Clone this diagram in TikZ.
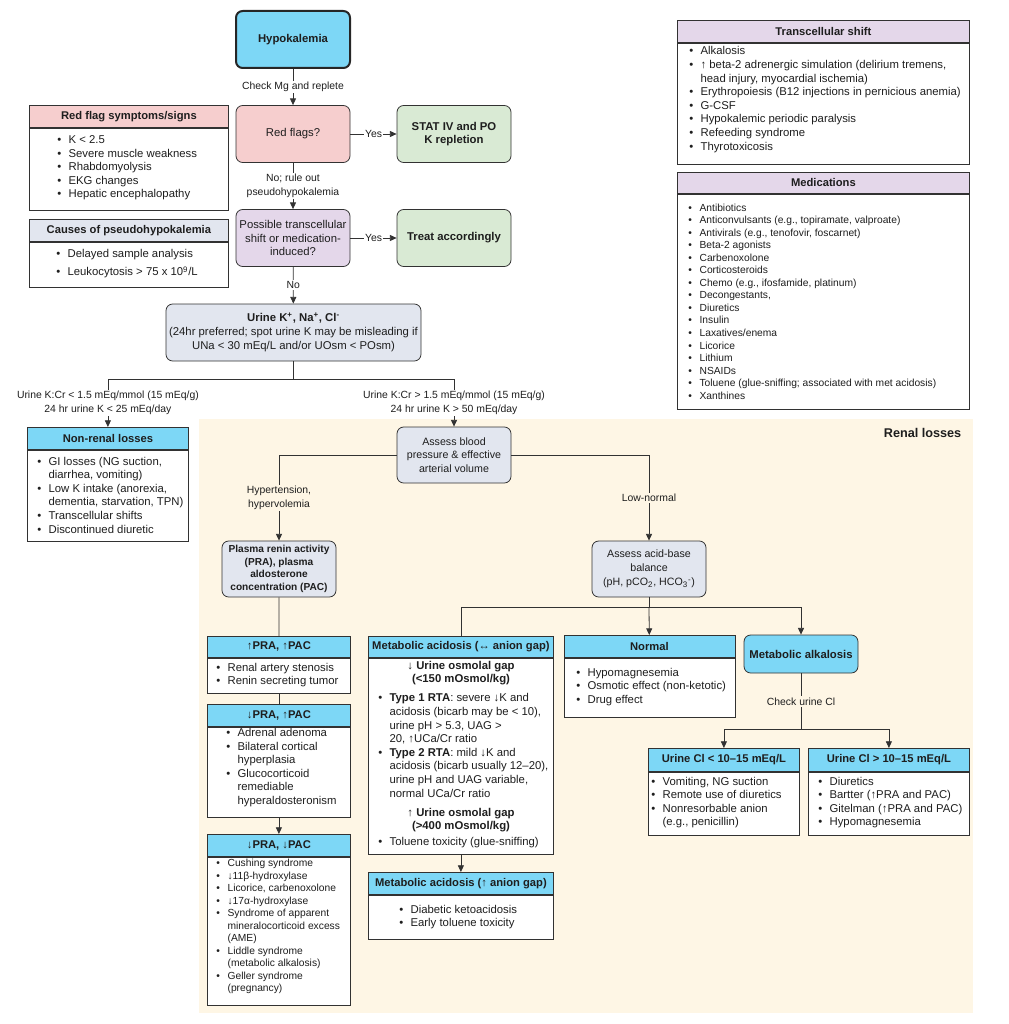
\documentclass[tikz,border=0pt]{standalone}
\usepackage{fontspec}
\setmainfont{Liberation Sans}
\usetikzlibrary{arrows.meta,positioning}

\definecolor{boxcyan}{RGB}{125,215,246}
\definecolor{boxpink}{RGB}{246,206,206}
\definecolor{boxgreen}{RGB}{217,234,212}
\definecolor{boxlav}{RGB}{228,215,234}
\definecolor{boxgray}{RGB}{226,230,239}
\definecolor{creambg}{RGB}{254,246,229}
\definecolor{linecol}{RGB}{50,50,50}
\definecolor{txtcol}{RGB}{30,30,30}

\newcommand{\itm}{\makebox[8.5pt][l]{\textbullet}}
\newcommand{\cnt}{\hspace*{8.5pt}}
\newcommand{\lblfont}{\fontsize{7.8}{10.4}\selectfont}
\newcommand{\smfont}{\fontsize{7.7}{9.4}\selectfont}
\newcommand{\rfont}{\fontsize{8}{10}\selectfont}
\newcommand{\bfnt}{\fontsize{8.5}{10.2}\selectfont\bfseries}

\begin{document}
\begin{tikzpicture}[x=0.75pt, y=-0.75pt, text=txtcol,
    font=\fontsize{8.5}{10.2}\selectfont,
    sz/.style 2 args={minimum width=#1*0.75pt, minimum height=#2*0.75pt},
    rbox/.style={draw=linecol, line width=0.6pt, rounded corners=5pt, align=center, inner sep=1pt},
    hdr/.style={draw=linecol, line width=0.6pt, fill=#1, font=\fontsize{8.4}{10}\selectfont\bfseries, inner sep=1pt, anchor=north west},
    bdy/.style={draw=linecol, line width=0.6pt, fill=white, inner sep=0pt, anchor=north west},
    lst/.style={align=left, anchor=west, inner sep=0pt},
    lbl/.style={fill=white, font=\lblfont, align=center, inner sep=1pt},
    arr/.style={draw=linecol, line width=0.6pt, -{Triangle[length=5pt,width=4.5pt]}},
    ln/.style={draw=linecol, line width=0.6pt}]
  \useasboundingbox (0,0) rectangle (1009,1024);
  % renal losses area
  \fill[creambg] (199,419) rectangle (973,1013);
  \node[font=\fontsize{9.5}{11}\selectfont\bfseries, anchor=east] (renal) at (966,433) {Renal losses};

  % main questions
  \node[rbox, fill=boxcyan, sz={114}{57}, draw=black!85, line width=1.5pt, font=\bfnt] (hypo) at (293,39.5) {Hypokalemia};
  \node[rbox, fill=boxpink, sz={114}{57}] (redq) at (293,134) {Red flags?};
  \node[rbox, fill=boxgreen, sz={114}{57}, font=\bfnt] (stat) at (454,134) {STAT IV and PO\\K repletion};
  \node[rbox, fill=boxlav, sz={114}{57}] (shiftq) at (293,238) {Possible transcellular\\shift or medication-\\induced?};
  \node[rbox, fill=boxgreen, sz={114}{57}, font=\bfnt] (treat) at (454,238) {Treat accordingly};
  \node[rbox, fill=boxgray, sz={255}{57}, font=\fontsize{8.5}{10.5}\selectfont] (urine) at (293.5,332.5)
    {\textbf{Urine K\textsuperscript{+}, Na\textsuperscript{+}, Cl\textsuperscript{-}}\\(24hr preferred; spot urine K may be misleading if\\UNa < 30 mEq/L and/or UOsm < POsm)};

  % side boxes on the left
  \node[hdr=boxpink, sz={199}{22}] (rfhead) at (29,105) {Red flag symptoms/signs};
  \node[bdy, sz={199}{82}, below=0pt of rfhead] (rfbody) {};
  \node[lst] (rflist) at (57,168) {\itm K < 2.5\\\itm Severe muscle weakness\\\itm Rhabdomyolysis\\\itm EKG changes\\\itm Hepatic encephalopathy};
  \node[hdr=boxgray, sz={199}{22}] (pshead) at (29,219) {Causes of pseudohypokalemia};
  \node[bdy, sz={199}{45}, below=0pt of pshead] (psbody) {};
  \node[lst, font=\fontsize{8.5}{13.5}\selectfont] (pslist) at (56,264) {\itm Delayed sample analysis\\\itm Leukocytosis > 75 x 10\textsuperscript{9}/L};

  % side boxes on the right
  \node[hdr=boxlav, sz={292}{22}] (tshead) at (677,20) {Transcellular shift};
  \node[bdy, sz={292}{121}, below=0pt of tshead] (tsbody) {};
  \node[lst] (tslist) at (689,99.5) {\itm Alkalosis\\\itm ↑ beta-2 adrenergic simulation (delirium tremens,\\\cnt head injury, myocardial ischemia)\\\itm Erythropoiesis (B12 injections in pernicious anemia)\\\itm G-CSF\\\itm Hypokalemic periodic paralysis\\\itm Refeeding syndrome\\\itm Thyrotoxicosis};
  \node[hdr=boxlav, sz={292}{21}] (mdhead) at (677,172) {Medications};
  \node[bdy, sz={292}{215}, below=0pt of mdhead] (mdbody) {};
  \node[lst, font=\fontsize{7.7}{9.4}\selectfont] (mdlist) at (688,301.5) {\itm Antibiotics\\\itm Anticonvulsants (e.g., topiramate, valproate)\\\itm Antivirals (e.g., tenofovir, foscarnet)\\\itm Beta-2 agonists\\\itm Carbenoxolone\\\itm Corticosteroids\\\itm Chemo (e.g., ifosfamide, platinum)\\\itm Decongestants,\\\itm Diuretics\\\itm Insulin\\\itm Laxatives/enema\\\itm Licorice\\\itm Lithium\\\itm NSAIDs\\\itm Toluene (glue-sniffing; associated with met acidosis)\\\itm Xanthines};

  % non-renal losses
  \node[hdr=boxcyan, sz={161}{22}] (nrhead) at (27,427) {Non-renal losses};
  \node[bdy, sz={161}{91}, below=0pt of nrhead] (nrbody) {};
  \node[lst] (nrlist) at (37,495) {\itm GI losses (NG suction,\\\cnt diarrhea, vomiting)\\\itm Low K intake (anorexia,\\\cnt dementia, starvation, TPN)\\\itm Transcellular shifts\\\itm Discontinued diuretic};

  % renal work-up
  \node[rbox, fill=boxgray, sz={114}{56}, font=\rfont] (assessbp) at (454,455) {Assess blood\\pressure \& effective\\arterial volume};
  \node[rbox, fill=boxgray, sz={114}{56}, font=\fontsize{7.6}{9.5}\selectfont\bfseries] (plasma) at (279,569) {Plasma renin activity\\(PRA), plasma\\aldosterone\\concentration (PAC)};
  \node[rbox, fill=boxgray, sz={114}{56}, font=\rfont] (acidbase) at (649,569) {Assess acid-base\\balance\\[1pt](pH, pCO\textsubscript{2}, HCO\textsubscript{3}\textsuperscript{-})};

  % renin / aldosterone boxes
  \node[hdr=boxcyan, sz={143}{21}] (uuhead) at (207,636) {↑PRA, ↑PAC};
  \node[bdy, sz={143}{35}, below=0pt of uuhead] (uubody) {};
  \node[lst] (uulist) at (216,675) {\itm Renal artery stenosis\\\itm Renin secreting tumor};
  \node[hdr=boxcyan, sz={143}{22}] (duhead) at (207,704) {↓PRA, ↑PAC};
  \node[bdy, sz={143}{90}, below=0pt of duhead] (dubody) {};
  \node[lst] (dulist) at (226,767.5) {\itm Adrenal adenoma\\\itm Bilateral cortical\\\cnt hyperplasia\\\itm Glucocorticoid\\\cnt remediable\\\cnt hyperaldosteronism};
  \node[hdr=boxcyan, sz={143}{22}] (ddhead) at (207,834) {↓PRA, ↓PAC};
  \node[bdy, sz={143}{148}, below=0pt of ddhead] (ddbody) {};
  \node[lst, font=\smfont] (ddlist) at (216,926.5) {\itm Cushing syndrome\\\itm ↓11β-hydroxylase\\\itm Licorice, carbenoxolone\\\itm ↓17α-hydroxylase\\\itm Syndrome of apparent\\\cnt mineralocorticoid excess\\\cnt (AME)\\\itm Liddle syndrome\\\cnt (metabolic alkalosis)\\\itm Geller syndrome\\\cnt (pregnancy)};

  % acidosis boxes
  \node[hdr=boxcyan, sz={185}{21}] (mahead) at (368,636) {Metabolic acidosis (↔ anion gap)};
  \node[bdy, sz={185}{196}, below=0pt of mahead] (mabody) {};
  \node[font=\bfnt, align=center] (magap1) at (461,673) {↓ Urine osmolal gap\\(<150 mOsmol/kg)};
  \node[lst] (marta) at (378,745.5) {\itm \textbf{Type 1 RTA}: severe ↓K and\\\cnt acidosis (bicarb may be < 10),\\\cnt urine pH > 5.3, UAG >\\\cnt 20, ↑UCa/Cr ratio\\\itm \textbf{Type 2 RTA}: mild ↓K and\\\cnt acidosis (bicarb usually 12–20),\\\cnt urine pH and UAG variable,\\\cnt normal UCa/Cr ratio};
  \node[font=\bfnt, align=center] (magap2) at (461,820) {↑ Urine osmolal gap\\(>400 mOsmol/kg)};
  \node[lst] (matol) at (378,843) {\itm Toluene toxicity (glue-sniffing)};
  \node[hdr=boxcyan, sz={185}{22}] (aghead) at (368,872) {Metabolic acidosis (↑ anion gap)};
  \node[bdy, sz={185}{44}, below=0pt of aghead] (agbody) {};
  \node[lst] (aglist) at (399,917) {\itm Diabetic ketoacidosis\\\itm Early toluene toxicity};

  % normal and alkalosis
  \node[hdr=boxcyan, sz={171}{22}] (nmhead) at (563.5,635) {Normal};
  \node[bdy, sz={171}{59}, below=0pt of nmhead] (nmbody) {};
  \node[lst] (nmlist) at (576,687) {\itm Hypomagnesemia\\\itm Osmotic effect (non-ketotic)\\\itm Drug effect};
  \node[rbox, fill=boxcyan, sz={114}{38}, font=\bfnt] (metalk) at (801,654) {Metabolic alkalosis};
  \node[hdr=boxcyan, sz={151}{23}] (clhead) at (648,748) {Urine Cl < 10–15 mEq/L};
  \node[bdy, sz={151}{63}, below=0pt of clhead] (clbody) {};
  \node[lst] (cllist) at (651,802.5) {\itm Vomiting, NG suction\\\itm Remote use of diuretics\\\itm Nonresorbable anion\\\cnt (e.g., penicillin)};
  \node[hdr=boxcyan, sz={161}{23}] (cmhead) at (808,748) {Urine Cl > 10–15 mEq/L};
  \node[bdy, sz={161}{63}, below=0pt of cmhead] (cmbody) {};
  \node[lst] (cmlist) at (818,802.5) {\itm Diuretics\\\itm Bartter (↑PRA and PAC)\\\itm Gitelman (↑PRA and PAC)\\\itm Hypomagnesemia};

  % connectors, upper part
  \draw[arr] (hypo) -- node[lbl] {Check Mg and replete} (redq);
  \draw[arr] (redq) -- node[lbl] {Yes} (stat);
  \draw[arr] (redq) -- node[lbl] {No; rule out\\pseudohypokalemia} (shiftq);
  \draw[arr] (shiftq) -- node[lbl] {Yes} (treat);
  \draw[arr] (shiftq) -- node[lbl] {No} (urine);
  \draw[ln] (urine.south) -- ++(0,18) coordinate (usplit);
  \draw[arr] (usplit) -| node[lbl, pos=0.75] {Urine K:Cr < 1.5 mEq/mmol (15 mEq/g)\\24 hr urine K < 25 mEq/day} (nrhead);
  \draw[arr] (usplit) -| node[lbl, pos=0.75] {Urine K:Cr > 1.5 mEq/mmol (15 mEq/g)\\24 hr urine K > 50 mEq/day} (assessbp);
  % connectors, renal part
  \draw[arr] (assessbp) -| node[lbl, fill=creambg, pos=0.75] {Hypertension,\\hypervolemia} (plasma);
  \draw[arr] (assessbp) -| node[lbl, fill=creambg, pos=0.75] {Low-normal} (acidbase);
  \draw[ln] (plasma) -- (uuhead);
  \draw[ln] (uubody) -- (duhead);
  \draw[arr] (dubody) -- (ddhead);
  \draw[ln] (acidbase.south) -- ++(0,10) coordinate (absplit);
  \draw[ln] (absplit) -| (mahead);
  \draw[arr] (absplit) -- (nmhead);
  \draw[arr] (absplit) -| (metalk);
  \draw[arr] (mabody) -- (aghead);
  \draw[ln] (metalk.south) -- node[lbl, fill=creambg] {Check urine Cl} ++(0,56) coordinate (clsplit);
  \draw[arr] (clsplit) -| (clhead);
  \draw[arr] (clsplit) -| (cmhead);
\end{tikzpicture}
\end{document}
